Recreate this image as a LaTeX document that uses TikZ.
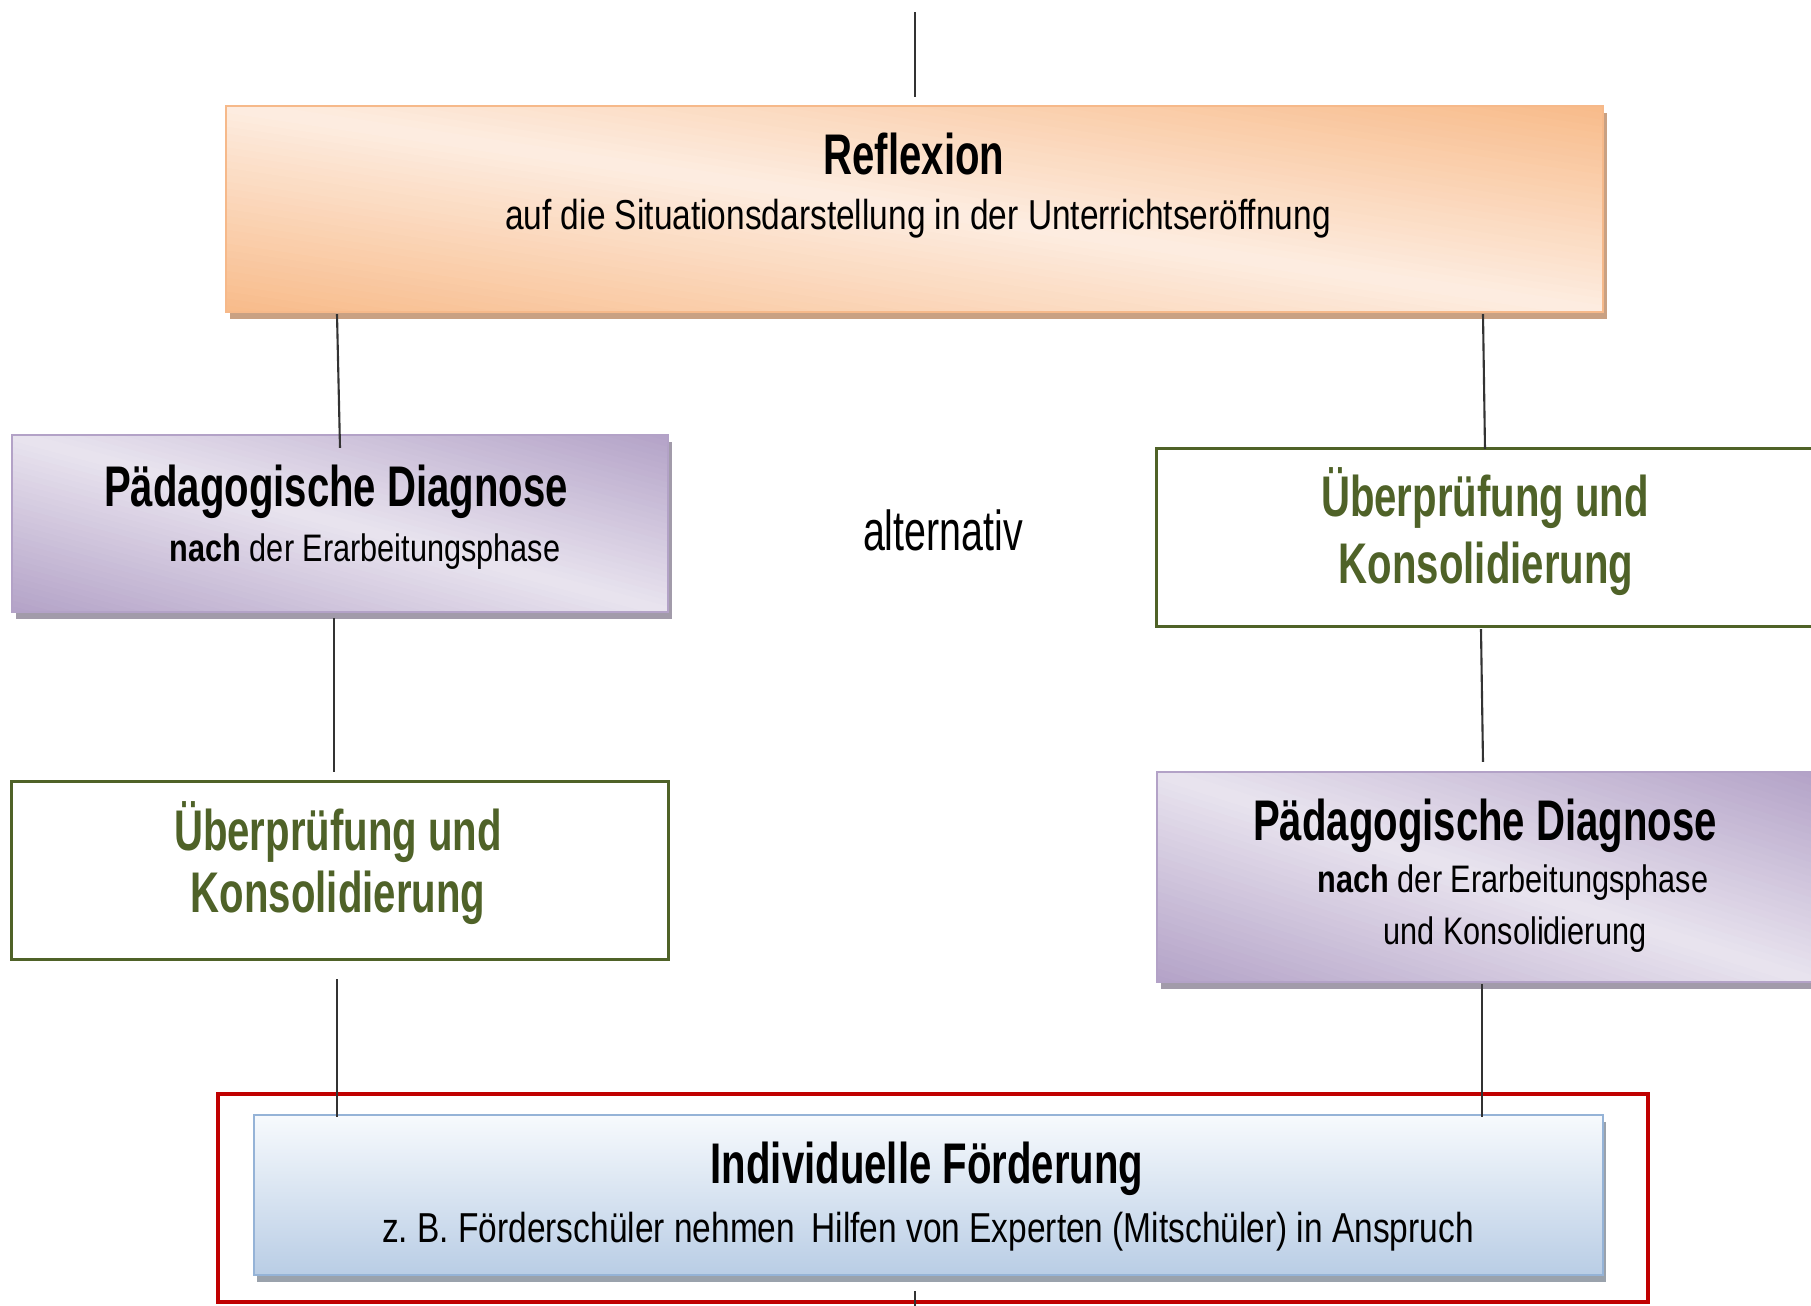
\documentclass[tikz,border=0pt]{standalone}
\usepackage{fontspec}
\setmainfont{Liberation Sans}
\newfontfamily\condA[FakeStretch=0.70]{Liberation Sans}
\newfontfamily\condB[FakeStretch=0.80]{Liberation Sans}
\usetikzlibrary{shadows,calc}
\frenchspacing

\definecolor{orD}{HTML}{F8BB8A}
\definecolor{orL}{HTML}{FDEDE1}
\definecolor{orB}{HTML}{F6B98A}
\definecolor{orS}{HTML}{C9A183}
\definecolor{puD}{HTML}{B3A2C7}
\definecolor{puL}{HTML}{E9E4EF}
\definecolor{puS}{HTML}{A29BAA}
\definecolor{olv}{HTML}{4F6228}
\definecolor{blT}{HTML}{F7FAFD}
\definecolor{blB}{HTML}{B9CDE5}
\definecolor{blE}{HTML}{95B3D7}
\definecolor{blS}{HTML}{9AA2AC}
\definecolor{frm}{HTML}{C00000}
\definecolor{lin}{HTML}{333333}

% Diagonal three-stop gradient: dark in the top-right and bottom-left
% corners, light along the diagonal from top-left to bottom-right.
% #1 node, #2 half width (cm), #3 half height (cm), #4 dark, #5 light
\newcommand\diagshade[5]{%
  \begin{scope}
    \clip (#1.south west) rectangle (#1.north east);
    \pgfmathsetmacro\dgd{sqrt(#2*#2+#3*#3)}
    \pgfmathsetmacro\dgt{atan(#3/#2)}
    \pgfmathsetmacro\dgh{2*#2*#3/\dgd}
    \foreach \i in {0,...,59}{
      \pgfmathsetmacro\ya{(-1+\i/30)*\dgh}
      \pgfmathsetmacro\yb{(-1+(\i+1)/30+0.01)*\dgh}
      \pgfmathsetmacro\pc{100*abs(-1+(\i+0.5)/30)}
      \fill[#4!\pc!#5, shift={(#1.center)}, rotate=-\dgt]
        (-\dgd cm,\ya cm) rectangle (\dgd cm,\yb cm);
    }
  \end{scope}}

\tikzset{
  box/.style={rectangle, inner sep=0pt, outer sep=0pt},
  orangebox/.style={box,
    drop shadow={shadow xshift=0.04cm, shadow yshift=-0.07cm, fill=orS, opacity=1}},
  purplebox/.style={box,
    drop shadow={shadow xshift=0.04cm, shadow yshift=-0.07cm, fill=puS, opacity=1}},
  orangeedge/.style={draw=orB, line width=0.6pt},
  purpleedge/.style={draw=puD, line width=0.6pt},
  greenbox/.style={box, draw=olv, line width=0.85pt, fill=white},
  bluebox/.style={box, draw=blE, line width=0.6pt,
    top color=blT, bottom color=blB,
    drop shadow={shadow xshift=0.03cm, shadow yshift=-0.07cm, fill=blS, opacity=1}},
  framebox/.style={box, draw=frm, line width=1.15pt},
  link/.style={draw=lin, line width=0.6pt},
  ttl/.style={anchor=base, inner sep=0pt, font=\condA\bfseries\fontsize{16.3}{19}\selectfont},
  gttl/.style={ttl, text=olv},
  subt/.style={anchor=base, inner sep=0pt, font=\condB\fontsize{11.9}{14}\selectfont},
  smallsub/.style={anchor=base, inner sep=0pt, font=\condB\fontsize{10.9}{13}\selectfont},
  note/.style={anchor=base, inner sep=0pt, font=\condA\fontsize{16}{19}\selectfont},
}

\begin{document}
\begin{tikzpicture}[x=0.01cm, y=-0.01cm]
  \useasboundingbox (0,0) rectangle (1811,1306);

  % boxes
  \node[orangebox, minimum width=13.77cm, minimum height=2.06cm] (refl) at (914.5,209) {};
  \diagshade{refl}{6.885}{1.03}{orD}{orL}
  \draw[orangeedge] (refl.south west) rectangle (refl.north east);

  \node[purplebox, minimum width=6.56cm, minimum height=1.77cm] (pdl) at (340,523.5) {};
  \diagshade{pdl}{3.28}{0.885}{puD}{puL}
  \draw[purpleedge] (pdl.south west) rectangle (pdl.north east);

  \node[greenbox, minimum width=6.56cm, minimum height=1.77cm] (ukr) at (1485,537.5) {};
  \node[greenbox, minimum width=6.56cm, minimum height=1.77cm] (ukl) at (340,870.5) {};

  \node[purplebox, minimum width=6.56cm, minimum height=2.10cm] (pdr) at (1485,877) {};
  \diagshade{pdr}{3.28}{1.05}{puD}{puL}
  \draw[purpleedge] (pdr.south west) rectangle (pdr.north east);

  \node[framebox, minimum width=14.30cm, minimum height=2.08cm] (frame) at (933,1198) {};
  \node[bluebox, minimum width=13.49cm, minimum height=1.60cm] (ind) at (928.5,1195) {};

  % free ends of the vertical flow
  \coordinate (topend) at (915,12);
  \coordinate (botend) at (915,1306);

  % connectors
  \draw[link] (topend) -- ($(refl.north)+(0.5,-9)$);
  \draw[link] ($(refl.south -| pdl.north)+(-3,2)$) -- ($(pdl.north)+(0,13)$);
  \draw[link] ($(refl.south -| ukr.north)+(-2,2)$) -- (ukr.north);
  \draw[link] ($(pdl.south)+(-6,6)$) -- ($(ukl.north)+(-6,-10)$);
  \draw[link] ($(ukr.south)+(-4,3)$) -- ($(pdr.north)+(-2,-10)$);
  \draw[link] ($(ukl.south)+(-3,20)$) -- ($(ind.north -| ukl.south)+(-3,2)$);
  \draw[link] ($(pdr.south)+(-3,2)$) -- ($(ind.north -| pdr.south)+(-3,2)$);
  \draw[link] ($(ind.south -| botend)+(0,16)$) -- (botend);

  % texts
  \node[ttl] (refl-t) at (914,174) {Reflexion};
  \node[subt] (refl-s) at (918,229) {auf die Situationsdarstellung in der Unterrichtseröffnung};

  \node[ttl] (pdl-t) at (336,506) {Pädagogische Diagnose};
  \node[smallsub] (pdl-s) at (365,561) {{\bfseries nach} der Erarbeitungsphase};

  \node[note] (alt) at (943,550) {alternativ};

  \node[gttl] (ukr-a) at (1485,516) {Überprüfung und};
  \node[gttl] (ukr-b) at (1486,583) {Konsolidierung};

  \node[gttl] (ukl-a) at (338,850) {Überprüfung und};
  \node[gttl] (ukl-b) at (338,912) {Konsolidierung};

  \node[ttl] (pdr-t) at (1485,840) {Pädagogische Diagnose};
  \node[smallsub] (pdr-s) at (1513,892) {{\bfseries nach} der Erarbeitungsphase};
  \node[smallsub] (pdr-u) at (1515,944) {und Konsolidierung};

  \node[ttl] (ind-t) at (927,1183) {Individuelle Förderung};
  \node[subt] (ind-s) at (928,1242) {z. B. Förderschüler nehmen\, Hilfen von Experten (Mitschüler) in Anspruch};
\end{tikzpicture}
\end{document}
